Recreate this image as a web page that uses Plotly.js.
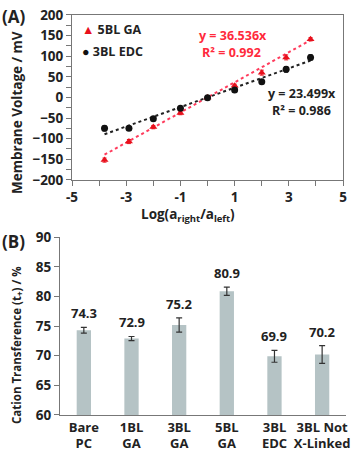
<!DOCTYPE html>
<html>
<head>
<script src="https://cdn.plot.ly/plotly-3.0.1.min.js"></script>
<style>body{margin:0;background:#fff}#chart{width:360px;height:452px}</style>
</head>
<body>
<div id="chart"></div>
<script>
// panel A: membrane voltage vs log activity ratio
var logRatio = [-3.8, -2.9, -2, -1, 0, 1, 2, 2.9, 3.8];
var ga5Volt = [-152, -107, -72, -38, 0, 28, 60, 97, 141];
var ga5Err = [5, 5, 4, 4, 3, 4, 6, 6, 4];
var edc3Volt = [-75, -75, -52, -26, -1, 18, 38, 68, 97];
var edc3Err = [6, 4, 4, 4, 3, 4, 4, 7, 6];
var ga5Slope = 36.536, edc3Slope = 23.499;
var fitX = [-3.8, 3.8];

// panel B: cation transference
var membranes = ['Bare<br>PC', '1BL<br>GA', '3BL<br>GA', '5BL<br>GA', '3BL<br>EDC', '3BL Not<br>X-Linked'];
var transference = [74.3, 72.9, 75.2, 80.9, 69.9, 70.2];
var transErr = [0.5, 0.35, 1.2, 0.7, 1.0, 1.5];

var ff = 'Open Sans, sans-serif';
function bold(size, color) { return {family: ff, size: size, color: color || '#222', weight: 'bold'}; }

var data = [
  {x: fitX, y: fitX.map(function (v) { return v * ga5Slope; }), mode: 'lines',
   line: {color: '#ff3b5c', width: 2, dash: 'dot'}, xaxis: 'x', yaxis: 'y'},
  {x: fitX, y: fitX.map(function (v) { return v * edc3Slope; }), mode: 'lines',
   line: {color: '#222', width: 2, dash: 'dot'}, xaxis: 'x', yaxis: 'y'},
  {x: logRatio, y: ga5Volt, name: '5BL GA', mode: 'markers', type: 'scatter',
   marker: {symbol: 'triangle-up', size: 7, color: '#e8101c'},
   error_y: {type: 'data', array: ga5Err, color: '#e8101c', thickness: 1, width: 2},
   xaxis: 'x', yaxis: 'y'},
  {x: logRatio, y: edc3Volt, name: '3BL EDC', mode: 'markers', type: 'scatter',
   marker: {symbol: 'circle', size: 7, color: '#111'},
   error_y: {type: 'data', array: edc3Err, color: '#111', thickness: 1.2, width: 2},
   xaxis: 'x', yaxis: 'y'},
  {x: membranes, y: transference, type: 'bar',
   marker: {color: '#b5c3c5'},
   error_y: {type: 'data', array: transErr, color: '#333', thickness: 1.2, width: 3},
   xaxis: 'x2', yaxis: 'y2'}
];

var labelAnn = membranes.map(function (m, i) {
  return {x: m, y: transference[i] + transErr[i], xref: 'x2', yref: 'y2', text: transference[i].toFixed(1),
    showarrow: false, yanchor: 'bottom', yshift: 3, font: bold(13)};
});

// paper-positioned text, given in pixels from the top-left corner
function txt(x, y, text, font, extra) {
  var a = {x: x / 360, y: 1 - y / 452, xref: 'paper', yref: 'paper', xanchor: 'center', yanchor: 'middle',
    text: text, showarrow: false, font: font};
  for (var k in extra) a[k] = extra[k];
  return a;
}

var layout = {
  width: 360, height: 452,
  margin: {l: 0, r: 0, t: 0, b: 0},
  paper_bgcolor: '#fff', plot_bgcolor: '#fff',
  font: bold(12),
  showlegend: false,
  bargap: 0.7,
  xaxis: {domain: [0.2, 0.953], anchor: 'y', range: [-5, 5],
    tickvals: [-5, -4, -3, -2, -1, 0, 1, 2, 3, 4, 5],
    ticktext: ['-5', '', '-3', '', '-1', '', '1', '', '3', '', '5'],
    ticks: 'outside', ticklen: 5, tickcolor: '#777', showline: true, linecolor: '#777', mirror: true,
    showgrid: false, zeroline: false, tickfont: bold(13.5)},
  yaxis: {domain: [0.602, 0.967], anchor: 'x', range: [-200, 200], dtick: 50,
    ticks: 'outside', ticklen: 5, tickcolor: '#777', minor: {dtick: 25, ticks: 'outside', ticklen: 5, tickcolor: '#777'},
    showline: true, linecolor: '#777', mirror: true, showgrid: false, zeroline: false, tickfont: bold(13.5)},
  xaxis2: {domain: [0.1667, 0.961], anchor: 'y2', showline: true, linecolor: '#777',
    ticks: '', showgrid: false, tickfont: bold(13)},
  yaxis2: {domain: [0.082, 0.475], anchor: 'x2', range: [60, 90], dtick: 5,
    ticks: 'outside', ticklen: 5, tickcolor: '#777', showline: true, linecolor: '#777',
    showgrid: false, zeroline: false, tickfont: bold(13.5)},
  annotations: [
    txt(0, 3, '(A)', bold(17), {xanchor: 'left', yanchor: 'top'}),
    txt(0, 228, '(B)', bold(17), {xanchor: 'left', yanchor: 'top'}),
    txt(17, 113, 'Membrane Voltage / mV', bold(13.5), {textangle: -90}),
    txt(17, 345, 'Cation Transference (t<sub>+</sub>) / %', bold(11.5), {textangle: -90}),
    txt(188, 215, 'Log(a<sub>right</sub>/a<sub>left</sub>)', bold(13.5)),
    txt(80, 30, '<span style="color:#e8101c">▲</span> 5BL GA', bold(12.5), {xanchor: 'left'}),
    txt(80, 51, '<span style="color:#111">●</span> 3BL EDC', bold(12.5), {xanchor: 'left'}),
    {x: 0.94, y: 151, xref: 'x', yref: 'y', text: 'y = 36.536x', showarrow: false, font: bold(12.5, '#ff2a3c')},
    {x: 0.9, y: 110, xref: 'x', yref: 'y', text: 'R² = 0.992', showarrow: false, font: bold(12.5, '#ff2a3c')},
    {x: 3.49, y: 8.5, xref: 'x', yref: 'y', text: 'y = 23.499x', showarrow: false, font: bold(12.5)},
    {x: 3.45, y: -32.7, xref: 'x', yref: 'y', text: 'R² = 0.986', showarrow: false, font: bold(12.5)}
  ].concat(labelAnn)
};

Plotly.newPlot('chart', data, layout, {displayModeBar: false, staticPlot: true});
</script>
</body>
</html>
